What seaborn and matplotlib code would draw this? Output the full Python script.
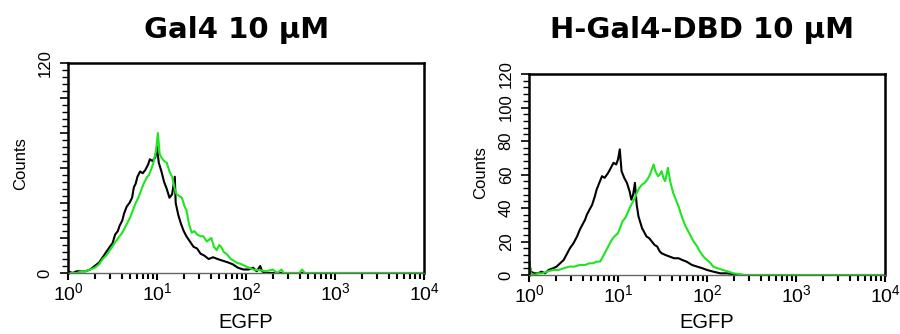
import numpy as np
import pandas as pd
import matplotlib
matplotlib.use("Agg")
import matplotlib.pyplot as plt
import seaborn as sns
from matplotlib.ticker import MultipleLocator, LogLocator, FixedLocator

# ---------------- data (log10 EGFP position, counts) ----------------
left_black_log = [0.00, 0.05, 0.10, 0.15, 0.20, 0.25, 0.30, 0.35, 0.39, 0.43, 0.47, 0.50, 0.53, 0.56,
                  0.58, 0.61, 0.63, 0.66, 0.69, 0.72, 0.74, 0.76, 0.78, 0.81, 0.84, 0.87, 0.90, 0.92,
                  0.95, 0.98, 1.00, 1.02, 1.05, 1.08, 1.11, 1.14, 1.17, 1.20, 1.21, 1.24, 1.27, 1.30,
                  1.33, 1.37, 1.41, 1.45, 1.49, 1.53, 1.58, 1.63, 1.68, 1.74, 1.80, 1.85, 1.91, 1.97,
                  2.03, 2.08, 2.12, 2.16, 2.18, 2.22, 2.60, 4.00]
left_black_cnt = [1, 0, 1, 1, 1, 2, 4, 6, 9, 12, 15, 17, 22, 24,
                  27, 30, 34, 38, 40, 43, 49, 51, 55, 58, 57, 59, 62, 65,
                  64, 66, 72, 63, 58, 52, 48, 43, 45, 55, 40, 33, 28, 24,
                  21, 18, 15, 14, 11, 10, 8, 9, 8, 7, 6, 5, 3, 2,
                  2, 3, 1, 4, 1, 0, 0, 0]

left_green_log = [0.00, 0.10, 0.15, 0.20, 0.25, 0.30, 0.35, 0.39, 0.43, 0.47, 0.51, 0.55, 0.58, 0.61,
                  0.65, 0.68, 0.70, 0.73, 0.76, 0.79, 0.82, 0.85, 0.87, 0.89, 0.91, 0.94, 0.96, 0.99,
                  1.01, 1.03, 1.05, 1.08, 1.11, 1.14, 1.17, 1.20, 1.22, 1.25, 1.28, 1.31, 1.33, 1.36,
                  1.39, 1.42, 1.45, 1.49, 1.52, 1.56, 1.61, 1.64, 1.67, 1.70, 1.72, 1.75, 1.78, 1.83,
                  1.89, 1.95, 2.01, 2.08, 2.16, 2.23, 2.30, 2.35, 2.40, 2.42, 2.60, 2.63, 2.66, 4.00]
left_green_cnt = [0, 0, 1, 1, 2, 3, 5, 8, 10, 13, 16, 19, 21, 23,
                  27, 30, 32, 36, 40, 43, 47, 51, 53, 55, 56, 60, 63, 70,
                  80, 68, 66, 64, 63, 58, 55, 48, 45, 44, 43, 38, 36, 28,
                  23, 24, 22, 21, 21, 18, 20, 15, 13, 16, 15, 12, 11, 8,
                  6, 5, 3.5, 2, 1.5, 1, 2, 0, 2, 0, 0, 2, 0, 0]

right_black_log = [0.00, 0.02, 0.06, 0.10, 0.14, 0.18, 0.22, 0.27, 0.31, 0.35, 0.39, 0.43, 0.46, 0.50,
                   0.54, 0.57, 0.60, 0.63, 0.65, 0.68, 0.71, 0.74, 0.76, 0.79, 0.82, 0.85, 0.89, 0.92,
                   0.95, 0.98, 1.00, 1.02, 1.04, 1.07, 1.10, 1.13, 1.15, 1.17, 1.19, 1.21, 1.23, 1.27,
                   1.32, 1.35, 1.38, 1.41, 1.44, 1.47, 1.49, 1.53, 1.58, 1.63, 1.68, 1.72, 1.77, 1.83,
                   1.89, 1.95, 2.00, 2.07, 2.15, 2.22, 2.30, 2.40, 4.00]
right_black_cnt = [9, 2, 1, 1, 2, 1, 3, 4, 5, 7, 9, 13, 16, 19,
                   23, 27, 30, 33, 36, 39, 42, 47, 51, 55, 59, 58, 61, 64,
                   67, 66, 69, 75, 62, 58, 55, 50, 45, 48, 55, 42, 35, 28,
                   23, 22, 20, 18, 17, 14, 13, 12, 11, 10, 10, 9, 8, 6,
                   5, 4, 3, 2, 1, 1, 0.5, 0, 0]

right_green_log = [0.00, 0.02, 0.06, 0.10, 0.15, 0.20, 0.27, 0.33, 0.39, 0.45, 0.51, 0.57, 0.63, 0.68,
                   0.72, 0.76, 0.80, 0.83, 0.85, 0.88, 0.91, 0.93, 0.96, 1.00, 1.03, 1.05, 1.08, 1.10,
                   1.13, 1.16, 1.19, 1.21, 1.24, 1.27, 1.30, 1.33, 1.36, 1.40, 1.42, 1.45, 1.47, 1.49,
                   1.51, 1.53, 1.55, 1.56, 1.59, 1.62, 1.65, 1.68, 1.71, 1.73, 1.76, 1.79, 1.82, 1.85,
                   1.89, 1.92, 1.96, 2.00, 2.04, 2.07, 2.12, 2.18, 2.24, 2.30, 2.37, 2.42, 4.00]
right_green_cnt = [9, 1, 0, 1, 1, 2, 3, 3, 4, 5, 5, 6, 6, 7,
                   7, 8, 8, 11, 13, 16, 19, 21, 23, 25, 29, 32, 34, 36,
                   40, 43, 46, 49, 52, 54, 55, 57, 60, 66, 62, 59, 60, 62,
                   58, 56, 61, 64, 55, 49, 45, 41, 36, 33, 29, 26, 23, 20,
                   17, 14, 11, 9, 7, 5, 4, 3, 2, 1, 0.5, 0, 0]

titles = ["Gal4 10 \u03bcM", "H-Gal4-DBD 10 \u03bcM"]
x_label = "EGFP"
y_label = "Counts"
x_decades = [1, 10, 100, 1000, 10000]
x_tick_labels = ["$10^{0}$", "$10^{1}$", "$10^{2}$", "$10^{3}$", "$10^{4}$"]
y_major = [0, 20, 40, 60, 80, 100, 120]
left_y_labels = ["0", "", "", "", "", "", "120"]
right_y_labels = ["0", "20", "40", "60", "80", "100", "120"]

# ---------------- style ----------------
sns.set_style("ticks", {"text.color": "black", "axes.labelcolor": "black",
                        "xtick.color": "black", "ytick.color": "black",
                        "axes.edgecolor": "black"})
plt.rcParams["font.family"] = ["Liberation Sans", "DejaVu Sans"]
plt.rcParams["mathtext.fontset"] = "custom"
plt.rcParams["mathtext.rm"] = "Liberation Sans"
plt.rcParams["mathtext.it"] = "Liberation Sans"
plt.rcParams["mathtext.bf"] = "Liberation Sans:bold"

GREEN = "#1ee61e"

fig = plt.figure(figsize=(9.0, 3.34), dpi=100)
ax1 = fig.add_axes([68 / 900, 1 - 273 / 334, 356 / 900, 210 / 334])
ax2 = fig.add_axes([529 / 900, 1 - 275 / 334, 356 / 900, 201 / 334])

def frame(log_vals, counts, name):
    return pd.DataFrame({"egfp": np.power(10.0, np.array(log_vals)),
                         "counts": np.array(counts, dtype=float), "sample": name})

panels = [
    (ax1, frame(left_black_log, left_black_cnt, "ctrl"), frame(left_green_log, left_green_cnt, "treat"),
     left_y_labels, titles[0], (-0.113, 0.52), -0.19, 236.5),
    (ax2, frame(right_black_log, right_black_cnt, "ctrl"), frame(right_green_log, right_green_cnt, "treat"),
     right_y_labels, titles[1], (-0.116, 0.51), -0.19, 702.5),
]

for ax, dfb, dfg, ylabs, title, ylab_pos, xlab_y, title_x in panels:
    sns.lineplot(data=dfb, x="egfp", y="counts", color="black", lw=1.5, ax=ax,
                 estimator=None, sort=False)
    sns.lineplot(data=dfg, x="egfp", y="counts", color=GREEN, lw=1.5, ax=ax,
                 estimator=None, sort=False)
    ax.set_xscale("log")
    ax.set_xlim(1, 10000)
    ax.set_ylim(0, 120)
    ax.xaxis.set_major_locator(FixedLocator(x_decades))
    ax.set_xticklabels(x_tick_labels)
    ax.xaxis.set_minor_locator(LogLocator(base=10, subs=np.arange(2, 10), numticks=20))
    ax.yaxis.set_major_locator(FixedLocator(y_major))
    ax.set_yticklabels(ylabs)
    ax.yaxis.set_minor_locator(MultipleLocator(4))
    ax.tick_params(axis="x", which="major", direction="out", length=5, width=1.5,
                   labelsize=14, pad=1.5)
    ax.tick_params(axis="x", which="minor", direction="out", length=4, width=1.5)
    ax.tick_params(axis="y", which="major", direction="out", length=6, width=1.2,
                   labelsize=12, pad=5, labelrotation=90)
    ax.tick_params(axis="y", which="minor", direction="out", length=4, width=1.0)
    for lab in ax.get_yticklabels():
        lab.set_va("center")
    for name, sp in ax.spines.items():
        sp.set_visible(True)
        sp.set_color("black")
        sp.set_linewidth(1.8)
    ax.spines["bottom"].set_linewidth(1.0)
    ax.spines["bottom"].set_color("#666666")
    ax.set_xlabel(x_label, fontsize=14.5)
    ax.xaxis.set_label_coords(0.5, xlab_y)
    ax.set_ylabel(y_label, fontsize=12)
    ax.yaxis.set_label_coords(*ylab_pos)
    fig.text(title_x / 900, 1 - 38 / 334, title, fontsize=21, fontweight="bold",
             family=["DejaVu Sans"], ha="center", va="baseline", color="black")
    ax.grid(False)

fig.savefig("out.png", dpi=100)
